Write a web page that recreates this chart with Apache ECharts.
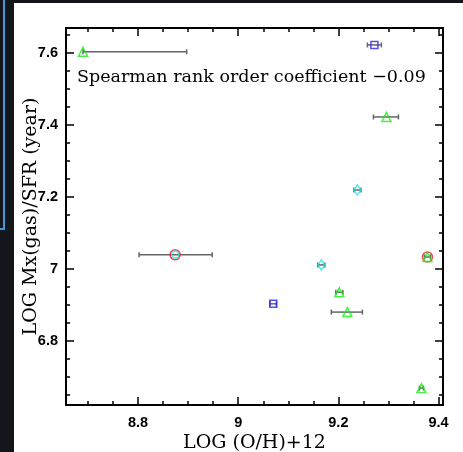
<!DOCTYPE html>
<html>
<head>
<meta charset="utf-8">
<script src="https://cdn.jsdelivr.net/npm/echarts@6/dist/echarts.min.js"></script>
<style>
  html, body { margin: 0; padding: 0; background: #fff; }
  #chart { width: 463px; height: 452px; }
</style>
</head>
<body>
<div id="chart"></div>
<script>
// points [LOG(O/H)+12, LOG Mx(gas)/SFR]
const triangles = [[8.69, 7.603], [9.296, 7.422], [9.378, 7.033], [9.202, 6.935], [9.218, 6.88], [9.366, 6.669]];
const squares = [[9.272, 7.622], [9.07, 6.903]];
const diamonds = [[9.238, 7.219], [9.166, 7.011]];
const cyanCircles = [[8.874, 7.039]];
const redCircles = [[8.874, 7.039], [9.378, 7.033]];
// error bars [x, y, xLow, xHigh]
const errorBars = [
  [8.69, 7.603, 8.69, 8.897],
  [9.272, 7.622, 9.258, 9.286],
  [9.296, 7.422, 9.27, 9.32],
  [9.238, 7.219, 9.231, 9.245],
  [8.874, 7.039, 8.802, 8.948],
  [9.378, 7.033, 9.372, 9.384],
  [9.166, 7.011, 9.159, 9.173],
  [9.202, 6.935, 9.195, 9.209],
  [9.07, 6.903, 9.064, 9.076],
  [9.218, 6.88, 9.186, 9.248],
  [9.366, 6.669, 9.362, 9.37]
];
const xMajor = [8.8, 9, 9.2, 9.4];
const xMinor = [8.7, 8.75, 8.85, 8.9, 8.95, 9.05, 9.1, 9.15, 9.25, 9.3, 9.35];
const yMajor = [6.8, 7, 7.2, 7.4, 7.6];
const yMinor = [6.65, 6.7, 6.75, 6.85, 6.9, 6.95, 7.05, 7.1, 7.15, 7.25, 7.3, 7.35, 7.45, 7.5, 7.55, 7.65];
const xTitle = "LOG (O/H)+12";
const yTitle = "LOG Mx(gas)/SFR (year)";
const note = "Spearman rank order coefficient \u22120.09";

const X_MIN = 8.656, X_MAX = 9.409;
const Y_MIN = 6.622, Y_MAX = 7.669;

const chart = echarts.init(document.getElementById("chart"));

function makeAxis(kind, position, ticks, len, showLine, labels) {
  const isX = kind === "x";
  return {
    type: "value",
    position,
    min: isX ? X_MIN : Y_MIN,
    max: isX ? X_MAX : Y_MAX,
    splitLine: { show: false },
    axisLine: { show: showLine, onZero: false, lineStyle: { color: "#000", width: 2 } },
    axisTick: {
      show: true,
      inside: true,
      length: len,
      customValues: ticks,
      lineStyle: { color: "#000", width: 1.5 },
    },
    axisLabel: labels
      ? {
          show: true,
          customValues: labels,
          margin: isX ? 10 : 8,
          color: "#000",
          fontFamily: "Liberation Sans",
          fontWeight: "bold",
          fontSize: 14.5,
          formatter: (v) => String(parseFloat(v.toFixed(2))),
        }
      : { show: false },
  };
}

const xAxes = [
  makeAxis("x", "bottom", xMajor, 8, true, xMajor),
  makeAxis("x", "bottom", xMinor, 4, false, null),
  makeAxis("x", "top", xMajor, 8, true, null),
  makeAxis("x", "top", xMinor, 4, false, null),
];
Object.assign(xAxes[0], {
  name: xTitle,
  nameLocation: "middle",
  nameGap: 29,
  nameMoveOverlap: false,
  nameTextStyle: { fontFamily: "DejaVu Serif", fontSize: 19, color: "#000" },
});

const yAxes = [
  makeAxis("y", "left", yMajor, 8, true, yMajor),
  makeAxis("y", "left", yMinor, 4, false, null),
  makeAxis("y", "right", yMajor, 8, true, null),
  makeAxis("y", "right", yMinor, 4, false, null),
];
Object.assign(yAxes[0], {
  name: yTitle,
  nameLocation: "middle",
  nameGap: 25,
  nameMoveOverlap: false,
  nameTextStyle: { fontFamily: "DejaVu Serif", fontSize: 19, color: "#000" },
});

function hollow(name, symbol, size, color, data) {
  return {
    name,
    type: "scatter",
    symbol,
    symbolSize: size,
    data,
    z: 5,
    itemStyle: { color: "rgba(0,0,0,0)", borderColor: color, borderWidth: 1.5 },
  };
}

const option = {
  backgroundColor: "#fff",
  animation: false,
  grid: { left: 66, right: 20, top: 28, bottom: 47, outerBoundsMode: "none" },
  title: {
    text: note,
    left: 77,
    top: 68,
    padding: 0,
    textStyle: { fontFamily: "DejaVu Serif", fontSize: 17.5, fontWeight: "normal", color: "#000" },
  },
  graphic: [
    { type: "rect", shape: { x: 0, y: 0, width: 14, height: 452 }, style: { fill: "#14161b" } },
    { type: "rect", shape: { x: 0, y: 0, width: 463, height: 3 }, style: { fill: "#14161b" } },
    { type: "polyline", shape: { points: [[4, 0], [4, 229], [0, 229]] }, style: { stroke: "#3b9bd8", lineWidth: 2, fill: null } },
  ],
  xAxis: xAxes,
  yAxis: yAxes,
  series: [
    {
      type: "custom",
      data: errorBars,
      z: 3,
      renderItem: (params, api) => {
        const y = api.value(1);
        const lo = api.coord([api.value(2), y]);
        const hi = api.coord([api.value(3), y]);
        const st = { stroke: "#666", lineWidth: 1.5 };
        return {
          type: "group",
          children: [
            { type: "line", shape: { x1: lo[0], y1: lo[1], x2: hi[0], y2: hi[1] }, style: st },
            { type: "line", shape: { x1: lo[0], y1: lo[1] - 2.5, x2: lo[0], y2: lo[1] + 2.5 }, style: st },
            { type: "line", shape: { x1: hi[0], y1: hi[1] - 2.5, x2: hi[0], y2: hi[1] + 2.5 }, style: st },
          ],
        };
      },
    },
    hollow("red", "circle", 10, "#f02020", redCircles),
    hollow("cyanCircle", "circle", 7, "#20e4f0", cyanCircles),
    hollow("triangle", "triangle", 9, "#18ec18", triangles),
    hollow("square", "rect", 7, "#2323f0", squares),
    hollow("diamond", "diamond", [7, 10], "#20e4f0", diamonds),
  ],
};
chart.setOption(option);
</script>
</body>
</html>
